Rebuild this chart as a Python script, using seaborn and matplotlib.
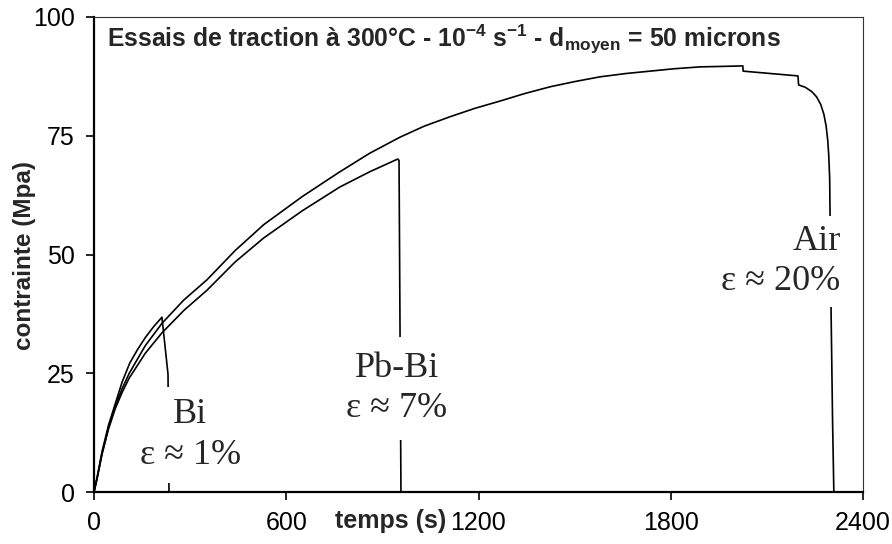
import matplotlib
matplotlib.use("Agg")
import matplotlib.pyplot as plt
import seaborn as sns
import pandas as pd

# Tensile test curves at 300 °C: stress (MPa) versus time (s)
air_t = [0, 10, 25, 45, 66, 88, 110, 160, 212, 280, 353, 440, 530, 650, 767,
         860, 955, 1030, 1111, 1190, 1267, 1345, 1423, 1500, 1579, 1660, 1735,
         1810, 1892, 1960, 2025, 2026, 2197, 2199, 2220, 2240, 2255, 2268, 2278,
         2285, 2290, 2293, 2296, 2300, 2305, 2309]
air_s = [0, 3, 8, 13.5, 18, 21.8, 25, 30.8, 35.5, 40.4, 44.7, 50.8, 56.3, 62.2,
         67.4, 71.3, 74.7, 77, 79, 80.8, 82.3, 83.9, 85.3, 86.4, 87.4, 88.1, 88.6,
         89.1, 89.5, 89.6, 89.7, 88.6, 87.6, 85.7, 85.2, 84.3, 83.2, 81.6, 79.5,
         77, 74, 71, 66, 40, 15, 0]

pbbi_t = [0, 10, 25, 45, 66, 88, 110, 160, 212, 280, 353, 440, 530, 650, 767,
          860, 948, 952, 958]
pbbi_s = [0, 3, 8, 13.2, 17.5, 21, 24, 29.2, 33.5, 38.2, 42.5, 48.4, 53.5, 59.2,
          64.2, 67.4, 70.1, 69.8, 0]

bi_t = [0, 10, 25, 45, 66, 88, 112, 136, 160, 186, 212, 231, 234]
bi_s = [0, 3.2, 8.5, 14, 18.5, 23.2, 27.2, 30, 32.5, 34.8, 36.8, 24.8, 0]

x_ticks = [0, 600, 1200, 1800, 2400]
y_ticks = [0, 25, 50, 75, 100]

# text, x, y, alignment, white-box padding
labels = [
    ("Bi\nε ≈ 1%", 300, 12.0, "center", 0.3),
    ("Pb-Bi\nε ≈ 7%", 945, 21.8, "center", 0.4),
    ("Air\nε ≈ 20%", 2330, 48.5, "right", 0.25),
]

sns.set_theme(style="ticks")
plt.rcParams["font.family"] = ["Liberation Sans", "DejaVu Sans"]
plt.rcParams["mathtext.fontset"] = "custom"
plt.rcParams["mathtext.rm"] = "Liberation Sans"
plt.rcParams["mathtext.bf"] = "Liberation Sans:bold"

fig = plt.figure(figsize=(8.92, 5.44), dpi=100)
ax = fig.add_axes([94 / 892, 1 - 492 / 544, (863 - 94) / 892, (492 - 17) / 544])

frames = []
for name, t, s in [("Air", air_t, air_s), ("Pb-Bi", pbbi_t, pbbi_s), ("Bi", bi_t, bi_s)]:
    frames.append(pd.DataFrame({"temps": t, "contrainte": s, "milieu": name}))
df = pd.concat(frames, ignore_index=True)

for name, sub in df.groupby("milieu", sort=False):
    sns.lineplot(data=sub, x="temps", y="contrainte", sort=False, estimator=None,
                 color="black", linewidth=1.2, ax=ax, legend=False)

ax.set_xlim(0, 2400)
ax.set_ylim(0, 100)
ax.set_xticks(x_ticks)
ax.set_yticks(y_ticks)
ax.tick_params(axis="both", direction="out", length=6, width=1.2,
               labelsize=18, pad=8, colors="black")
for side in ["left", "bottom"]:
    ax.spines[side].set_linewidth(1.6)
    ax.spines[side].set_color("black")
for side in ["top", "right"]:
    ax.spines[side].set_visible(True)
    ax.spines[side].set_linewidth(0.8)
    ax.spines[side].set_color("#333333")

ax.set_xlabel("temps (s)", fontsize=18, fontweight="bold")
ax.xaxis.set_label_coords(0.386, -0.061)
ax.xaxis.label.set_va("center")
ax.set_ylabel("contrainte (Mpa)", fontsize=17.5, fontweight="bold")
ax.yaxis.set_label_coords(-0.091, 0.497)
ax.yaxis.label.set_va("center")

ax.text(0.017, 0.952,
        r"Essais de traction à 300°C - 10$^{\mathbf{-4}}$ s$^{\mathbf{-1}}$ - d$_{\mathbf{moyen}}$ = 50 microns",
        transform=ax.transAxes, ha="left", va="center", fontsize=17.8, fontweight="bold")

for txt, tx, ty, ha, pad in labels:
    ax.text(tx, ty, txt, ha=ha, va="center", multialignment=ha,
            fontsize=26, family=["Liberation Serif", "DejaVu Serif"],
            linespacing=1.3,
            bbox=dict(boxstyle=f"square,pad={pad}", fc="white", ec="none"))

fig.savefig("out.png", dpi=100, facecolor="white")
